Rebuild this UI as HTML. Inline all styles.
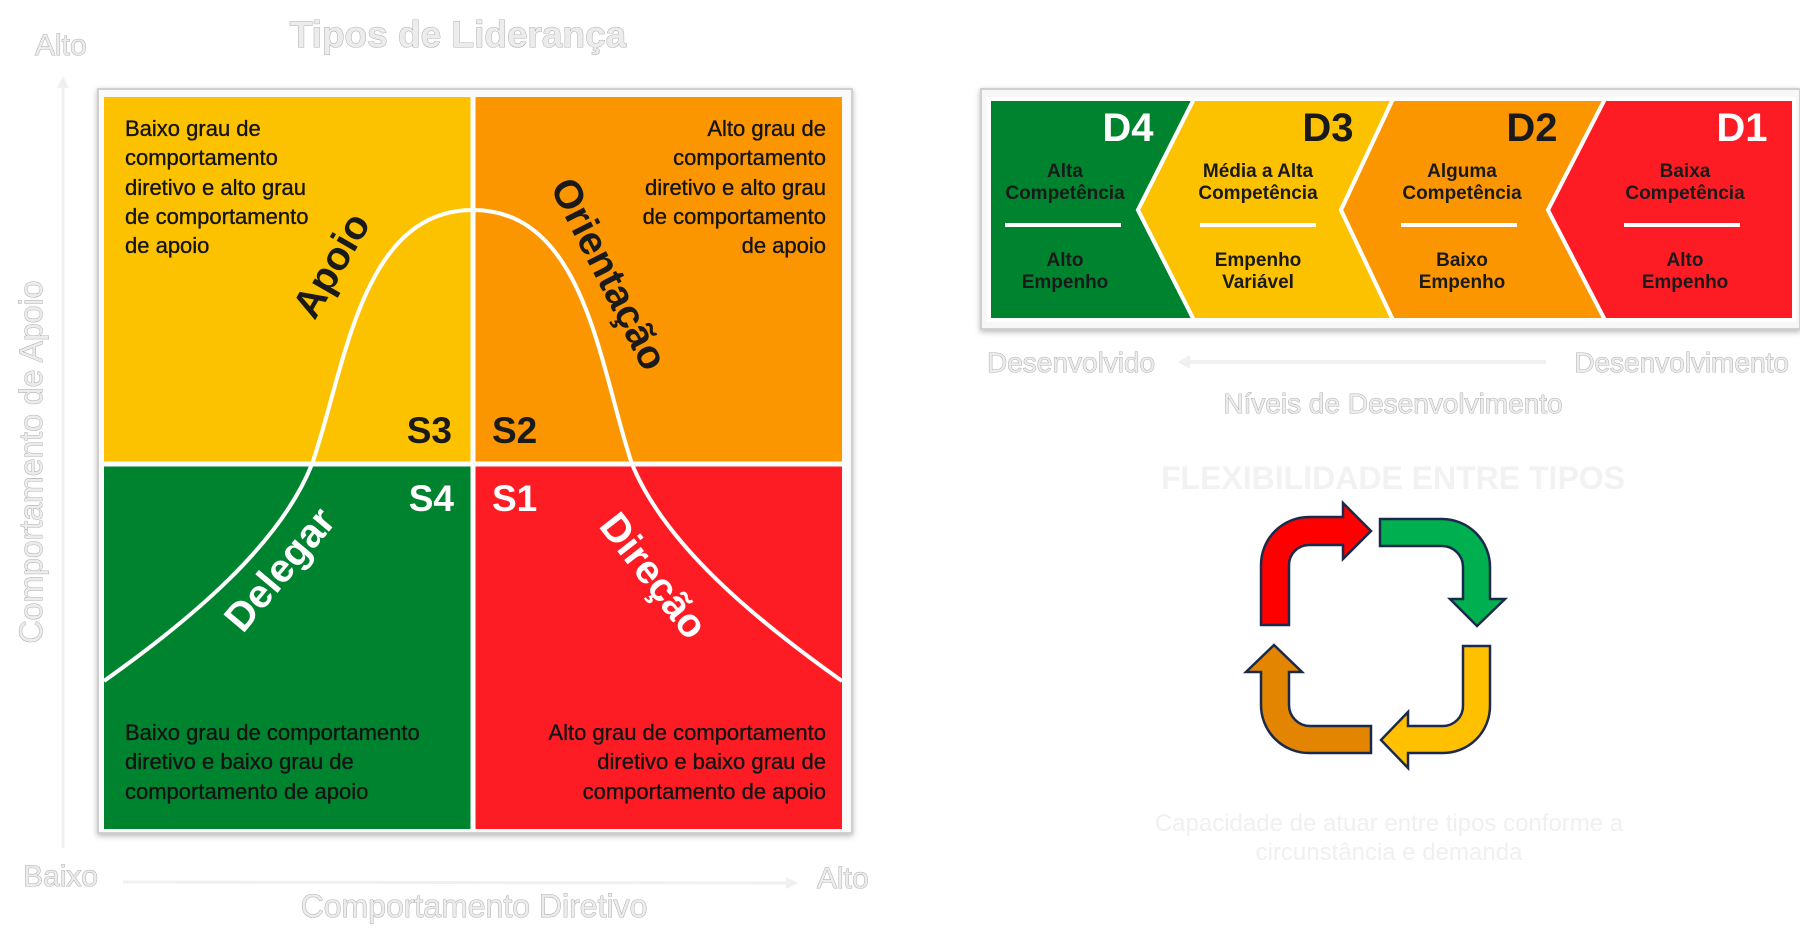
<!DOCTYPE html>
<html><head><meta charset="utf-8"><style>
html,body{margin:0;padding:0;background:#fff;}
svg{display:block;}
.ax{font-family:"Liberation Sans",sans-serif;fill:#ececec;stroke:#9a9a9a;stroke-width:0.8px;paint-order:stroke;}
.q{font-family:"Liberation Sans",sans-serif;font-size:22px;fill:#141414;stroke:#141414;stroke-width:0.35px;}
.lbl{font-family:"Liberation Sans",sans-serif;font-size:40px;font-weight:bold;}
.s{font-family:"Liberation Sans",sans-serif;font-size:37px;font-weight:bold;}
.d{font-family:"Liberation Sans Narrow","Liberation Sans",sans-serif;font-weight:bold;}
</style></head><body>
<svg width="1800" height="949" viewBox="0 0 1800 949" xmlns="http://www.w3.org/2000/svg">
<defs>
<filter id="sh" x="-5%" y="-5%" width="110%" height="110%"><feDropShadow dx="0" dy="2" stdDeviation="3" flood-color="#888" flood-opacity="0.6"/></filter>
</defs>
<text class="ax" x="458" y="47" font-size="37" text-anchor="middle" font-weight="bold">Tipos de Liderança</text>
<text class="ax" x="35" y="55" font-size="30">Alto</text>
<line x1="63" y1="848" x2="63" y2="84" stroke="#f0f0f0" stroke-width="3"/>
<polygon points="57,88 63,76 69,88" fill="#f0f0f0"/>
<text class="ax" x="0" y="0" font-size="32" text-anchor="middle" transform="translate(42,462) rotate(-90)">Comportamento de Apoio</text>
<text class="ax" x="23" y="886" font-size="30">Baixo</text>
<text class="ax" x="817" y="888" font-size="30">Alto</text>
<line x1="123" y1="882" x2="790" y2="883" stroke="#f0f0f0" stroke-width="3"/>
<polygon points="786,877 798,883 786,889" fill="#f0f0f0"/>
<text class="ax" x="474" y="917" font-size="32" text-anchor="middle">Comportamento Diretivo</text>

<rect x="98" y="89" width="754" height="744" fill="#fafafa" stroke="#d0d0d0" stroke-width="2" filter="url(#sh)"/>
<rect x="104" y="97" width="369" height="367" fill="#fcc200"/>
<rect x="473" y="97" width="369" height="367" fill="#fb9600"/>
<rect x="104" y="464" width="369" height="365" fill="#00832f"/>
<rect x="473" y="464" width="369" height="365" fill="#fd1c24"/>
<line x1="473" y1="97" x2="473" y2="829" stroke="#fff" stroke-width="5"/>
<line x1="104" y1="464" x2="842" y2="464" stroke="#fff" stroke-width="5"/>
<path d="M104,681 C190,620 280,545 312,464 C345,370 360,210 473,210 C586,210 600,370 632,464 C665,545 756,620 842,681" fill="none" stroke="#fff" stroke-width="4"/>

<g class="q">
<text x="125" y="136">Baixo grau de</text>
<text x="125" y="165">comportamento</text>
<text x="125" y="195">diretivo e alto grau</text>
<text x="125" y="224">de comportamento</text>
<text x="125" y="253">de apoio</text>
</g>
<g class="q" text-anchor="end">
<text x="826" y="136">Alto grau de</text>
<text x="826" y="165">comportamento</text>
<text x="826" y="195">diretivo e alto grau</text>
<text x="826" y="224">de comportamento</text>
<text x="826" y="253">de apoio</text>
</g>
<g class="q">
<text x="125" y="740">Baixo grau de comportamento</text>
<text x="125" y="769">diretivo e baixo grau de</text>
<text x="125" y="799">comportamento de apoio</text>
</g>
<g class="q" text-anchor="end">
<text x="826" y="740">Alto grau de comportamento</text>
<text x="826" y="769">diretivo e baixo grau de</text>
<text x="826" y="799">comportamento de apoio</text>
</g>

<text class="lbl" fill="#1a1a1a" text-anchor="middle" transform="translate(343,272) rotate(-60)">Apoio</text>
<text class="lbl" fill="#1a1a1a" text-anchor="middle" transform="translate(597,280) rotate(63)">Orientação</text>
<text class="lbl" fill="#fff" text-anchor="middle" transform="translate(290,578) rotate(-50)">Delegar</text>
<text class="lbl" fill="#fff" text-anchor="middle" transform="translate(643,584) rotate(52)">Direção</text>

<text class="s" x="452" y="443" text-anchor="end" fill="#1a1a1a">S3</text>
<text class="s" x="492" y="443" fill="#1a1a1a">S2</text>
<text class="s" x="454" y="511" text-anchor="end" fill="#fff">S4</text>
<text class="s" x="492" y="511" fill="#fff">S1</text>

<rect x="981" y="89" width="819" height="240" fill="#f7f7f7" stroke="#d0d0d0" stroke-width="2" filter="url(#sh)"/>
<g stroke="#fff" stroke-width="4" stroke-linejoin="miter">
<polygon points="989,99 1194,99 1138,210 1194,320 989,320" fill="#00832f"/>
<polygon points="1194,99 1393,99 1341,210 1393,320 1194,320 1138,210" fill="#fcc200"/>
<polygon points="1393,99 1605,99 1548,210 1605,320 1393,320 1341,210" fill="#fb9600"/>
<polygon points="1605,99 1794,99 1794,320 1605,320 1548,210" fill="#fd1c24"/>
</g>
<g class="d" font-size="40" text-anchor="middle">
<text x="1128" y="141" fill="#fff">D4</text>
<text x="1328" y="141" fill="#1a1a1a">D3</text>
<text x="1532" y="141" fill="#1a1a1a">D2</text>
<text x="1742" y="141" fill="#fff">D1</text>
</g>
<g class="d" font-size="19" text-anchor="middle" fill="#1a1a1a">
<text x="1065" y="177">Alta</text><text x="1065" y="199">Competência</text>
<text x="1065" y="266">Alto</text><text x="1065" y="288">Empenho</text>
<text x="1258" y="177">Média a Alta</text><text x="1258" y="199">Competência</text>
<text x="1258" y="266">Empenho</text><text x="1258" y="288">Variável</text>
<text x="1462" y="177">Alguma</text><text x="1462" y="199">Competência</text>
<text x="1462" y="266">Baixo</text><text x="1462" y="288">Empenho</text>
<text x="1685" y="177">Baixa</text><text x="1685" y="199">Competência</text>
<text x="1685" y="266">Alto</text><text x="1685" y="288">Empenho</text>
</g>
<g stroke="#fff" stroke-width="4">
<line x1="1005" y1="225" x2="1121" y2="225"/>
<line x1="1200" y1="225" x2="1316" y2="225"/>
<line x1="1401" y1="225" x2="1517" y2="225"/>
<line x1="1624" y1="225" x2="1740" y2="225"/>
</g>
<text class="ax" x="987" y="372" font-size="28">Desenvolvido</text>
<text class="ax" x="1789" y="372" font-size="28" text-anchor="end">Desenvolvimento</text>
<line x1="1186" y1="362" x2="1546" y2="362" stroke="#f0f0f0" stroke-width="4"/>
<polygon points="1190,355 1178,362 1190,369" fill="#f0f0f0"/>
<text class="ax" x="1393" y="413" font-size="28" text-anchor="middle">Níveis de Desenvolvimento</text>

<text x="1393" y="489" font-family="Liberation Sans,sans-serif" font-size="32" font-weight="bold" fill="#f2f2f2" text-anchor="middle">FLEXIBILIDADE ENTRE TIPOS</text>
<g stroke="#1b2a4a" stroke-width="2.5" stroke-linejoin="miter">
<path d="M1261,625 L1261,565 A48,48 0 0 1 1309,517 L1343,517 L1343,503 L1371,531 L1343,559 L1343,545 L1309,545 A20,20 0 0 0 1289,565 L1289,625 Z" fill="#ff0000"/>
<path d="M1380,519 L1442,519 A48,48 0 0 1 1490,567 L1490,599 L1505,599 L1477,626 L1450,599 L1463,599 L1463,567 A21,21 0 0 0 1442,546 L1380,546 Z" fill="#00b050"/>
<path d="M1490,646 L1490,706 A47,47 0 0 1 1443,753 L1408,753 L1408,768 L1381,740 L1408,712 L1408,726 L1443,726 A20,20 0 0 0 1463,706 L1463,646 Z" fill="#ffc000"/>
<path d="M1371,753 L1309,753 A48,48 0 0 1 1261,705 L1261,672 L1246,672 L1274,645 L1302,672 L1289,672 L1289,705 A21,21 0 0 0 1310,726 L1371,726 Z" fill="#e38500"/>
</g>
<g font-family="Liberation Sans,sans-serif" font-size="24" fill="#f0f0f0" text-anchor="middle">
<text x="1389" y="831">Capacidade de atuar entre tipos conforme a</text>
<text x="1389" y="860">circunstância e demanda</text>
</g>
</svg>
</body></html>
